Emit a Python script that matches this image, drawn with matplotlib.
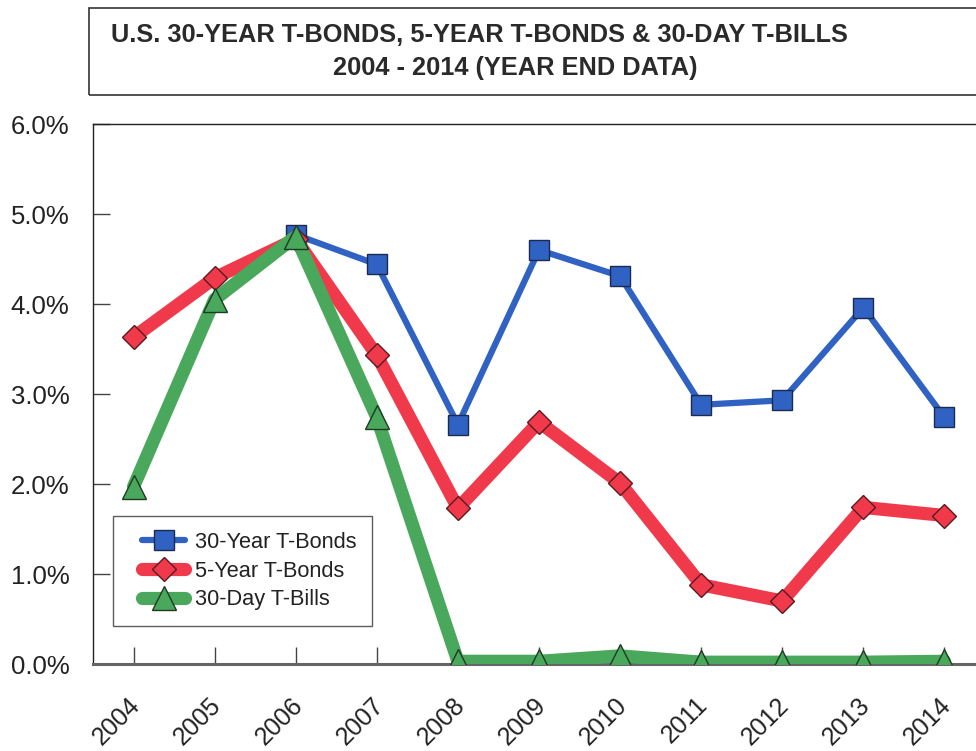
import numpy as np
import matplotlib
matplotlib.use("Agg")
import matplotlib.pyplot as plt
from matplotlib.patches import Rectangle
from matplotlib.ticker import FuncFormatter
from matplotlib.legend_handler import HandlerLine2D
import matplotlib.transforms as mtransforms

years = ["2004", "2005", "2006", "2007", "2008", "2009", "2010", "2011", "2012", "2013", "2014"]
bonds30 = [np.nan, np.nan, 4.77, 4.44, 2.66, 4.60, 4.31, 2.88, 2.93, 3.96, 2.74]
bonds5 = [3.63, 4.29, 4.72, 3.43, 1.73, 2.69, 2.01, 0.88, 0.70, 1.74, 1.65]
bills30 = [1.97, 4.05, 4.75, 2.74, 0.03, 0.03, 0.09, 0.02, 0.02, 0.02, 0.03]
yticks = [0, 1, 2, 3, 4, 5, 6]

plt.rcParams['font.family'] = ['Liberation Sans', 'DejaVu Sans']

W, H = 976, 751
fig = plt.figure(figsize=(W / 100, H / 100), dpi=100)

# axes extends past right edge as in the reference
AX_L, AX_B, AX_W, AX_H = 93, 664, 892, 540
ax = fig.add_axes([AX_L / W, (H - AX_B) / H, AX_W / W, AX_H / H])
x = np.arange(len(years))

ax.plot(x, bonds30, color="#2f62c2", lw=4.5, marker="s", ms=15,
        mfc="#2f62c2", mec="#1c2a50", mew=1.0, label="30-Year T-Bonds", zorder=3,
        solid_joinstyle="round", solid_capstyle="round")
ax.plot(x, bonds5, color="#f03a4c", lw=9.5, marker="D", ms=12,
        mfc="#f03a4c", mec="#5a1a20", mew=1.0, label="5-Year T-Bonds", zorder=4,
        solid_joinstyle="round", solid_capstyle="round")
ax.plot(x, bills30, color="#4aa85c", lw=9.5, marker="^", ms=17,
        mfc="#4aa85c", mec="#1e3a22", mew=1.0, label="30-Day T-Bills", zorder=5,
        solid_joinstyle="round", solid_capstyle="round")

ax.set_xlim(-0.5, len(years) - 0.5)
ax.set_ylim(0, 6)
ax.set_yticks(yticks)
ax.yaxis.set_major_formatter(FuncFormatter(lambda v, p: f"{v:.1f}%"))
ax.set_xticks(x)
ax.set_xticklabels(years, rotation=45, ha="right", va="center",
                   rotation_mode="anchor", fontsize=18, color="#222222")
ax.tick_params(axis="y", direction="in", length=12, width=1, labelsize=18.5,
               labelcolor="#222222", pad=17, color="#444444")
ax.tick_params(axis="x", direction="in", length=12, width=1, pad=27, color="#444444")
shift = mtransforms.ScaledTranslation(3 / 100, 0, fig.dpi_scale_trans)
for lab in ax.get_xticklabels():
    lab.set_transform(lab.get_transform() + shift)
for s in ax.spines.values():
    s.set_color("#222222")
    s.set_linewidth(1.0)
ax.spines["bottom"].set_color("#666666")
ax.spines["bottom"].set_linewidth(2.2)

leg = ax.legend(loc="upper left",
                bbox_to_anchor=((113 - AX_L) / AX_W, (AX_B - 516) / AX_H),
                fontsize=15.7, frameon=True, fancybox=False, edgecolor="#333333",
                handlelength=2.6, borderpad=0.72, labelspacing=0.36,
                handletextpad=0.45, borderaxespad=0,
                handler_map={matplotlib.lines.Line2D: HandlerLine2D(xpad=0.6)})
leg.get_frame().set_linewidth(1.0)
for t in leg.get_texts():
    t.set_color("#222222")

# title box
fig.patches.append(Rectangle((89 / W, 1 - 95 / H), 900 / W, 87 / H, transform=fig.transFigure,
                             fill=False, edgecolor="#333333", lw=1.2))
tfont = dict(fontsize=18.3, fontweight="bold", color="#2a2a2a")
fig.text(479 / W, 1 - 35 / H, "U.S. 30-YEAR T-BONDS, 5-YEAR T-BONDS & 30-DAY T-BILLS",
         ha="center", va="center", **tfont)
fig.text(515 / W, 1 - 68 / H, "2004 - 2014 (YEAR END DATA)", ha="center", va="center", **tfont)

fig.savefig("out.png", dpi=100)
